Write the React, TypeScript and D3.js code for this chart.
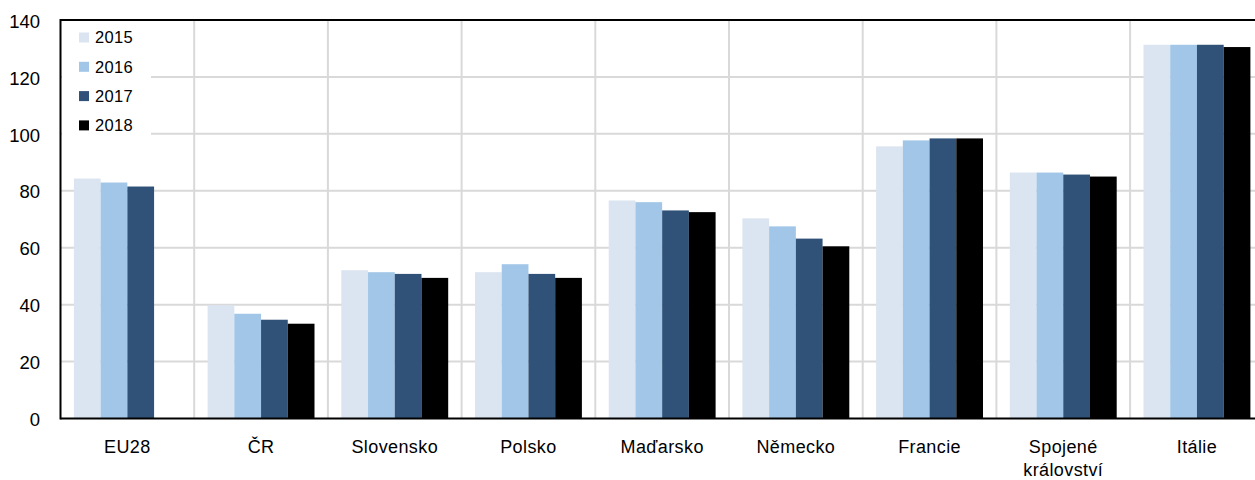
import React from "react";
import * as d3 from "d3";

const categories = ["EU28", "ČR", "Slovensko", "Polsko", "Maďarsko", "Německo", "Francie", "Spojené\nkrálovství", "Itálie"];
const seriesNames = ["2015", "2016", "2017", "2018"];
const v2015 = [84.3, 39.8, 52.1, 51.4, 76.6, 70.3, 95.6, 86.4, 131.3];
const v2016 = [82.9, 36.8, 51.4, 54.2, 76.0, 67.5, 97.7, 86.4, 131.3];
const v2017 = [81.5, 34.7, 50.8, 50.8, 73.1, 63.2, 98.4, 85.7, 131.3];
const v2018: (number | null)[] = [null, 33.3, 49.4, 49.4, 72.5, 60.5, 98.4, 85.0, 130.5];
const yTicks = [0, 20, 40, 60, 80, 100, 120, 140];
const colors = ["#dbe4f1", "#a1c6e7", "#305278", "#000000"];

const W = 1255;
const H = 480;
const left = 60.5;
const band = 133.7;
const top = 20;
const bottom = 418.5;
const FONT = "'Liberation Sans', Arial, sans-serif";

export default function App() {
  const series = [v2015, v2016, v2017, v2018];
  const x = d3.scaleBand<string>().domain(categories).range([left, left + band * categories.length]).padding(0);
  const gx = d3.scaleBand<string>().domain(seriesNames).range([13.4, x.bandwidth() - 13.4]).padding(0);
  const y = d3.scaleLinear().domain([0, 140]).range([bottom, top]);
  const plotRight = left + band * categories.length;

  return (
    <div style={{ position: "absolute", left: 0, top: 0 }}>
      <svg width={W} height={H} style={{ display: "block", background: "#fff" }}>
        {yTicks.filter((t) => t > 0 && t < 140).map((t) => (
          <line key={"h" + t} x1={left} x2={plotRight} y1={y(t)} y2={y(t)} stroke="#d9d9d9" strokeWidth={2} />
        ))}
        {categories.slice(1).map((c) => (
          <line key={"v" + c} x1={x(c)!} x2={x(c)!} y1={top} y2={bottom} stroke="#d9d9d9" strokeWidth={2} />
        ))}
        {categories.map((c, i) =>
          series.map((s, si) => {
            const val = s[i];
            if (val == null) return null;
            return (
              <rect
                key={c + si}
                x={x(c)! + gx(seriesNames[si])!}
                y={y(val)}
                width={gx.bandwidth()}
                height={y(0) - y(val)}
                fill={colors[si]}
              />
            );
          })
        )}
        <rect x={62} y={22} width={89} height={122} fill="#fff" />
        {seriesNames.map((n, i) => (
          <g key={"lg" + n} transform={`translate(79, ${37.5 + i * 29.3})`}>
            <rect x={0} y={-5} width={10} height={10} fill={colors[i]} />
            <text x={16} y={0} dy="0.36em" fontFamily={FONT} fontSize={16.5} letterSpacing={0.3} fill="#000">{n}</text>
          </g>
        ))}
        <line x1={left} x2={W} y1={top} y2={top} stroke="#000" strokeWidth={2} />
        <line x1={left} x2={left} y1={top - 1} y2={bottom + 1} stroke="#000" strokeWidth={2} />
        <line x1={left} x2={W} y1={bottom} y2={bottom} stroke="#000" strokeWidth={2} />
        {yTicks.map((t) => (
          <text key={"yt" + t} x={40} y={y(t) + 1} dy="0.36em" textAnchor="end" fontFamily={FONT} fontSize={18.5} fill="#000">{t}</text>
        ))}
        {categories.map((c) => (
          <text key={"cl" + c} x={x(c)! + x.bandwidth() / 2} y={453} textAnchor="middle" fontFamily={FONT} fontSize={18} letterSpacing={0.4} fill="#000">
            {c.split("\n").map((line, li) => (
              <tspan key={li} x={x(c)! + x.bandwidth() / 2} dy={li === 0 ? 0 : 23}>{line}</tspan>
            ))}
          </text>
        ))}
      </svg>
    </div>
  );
}
